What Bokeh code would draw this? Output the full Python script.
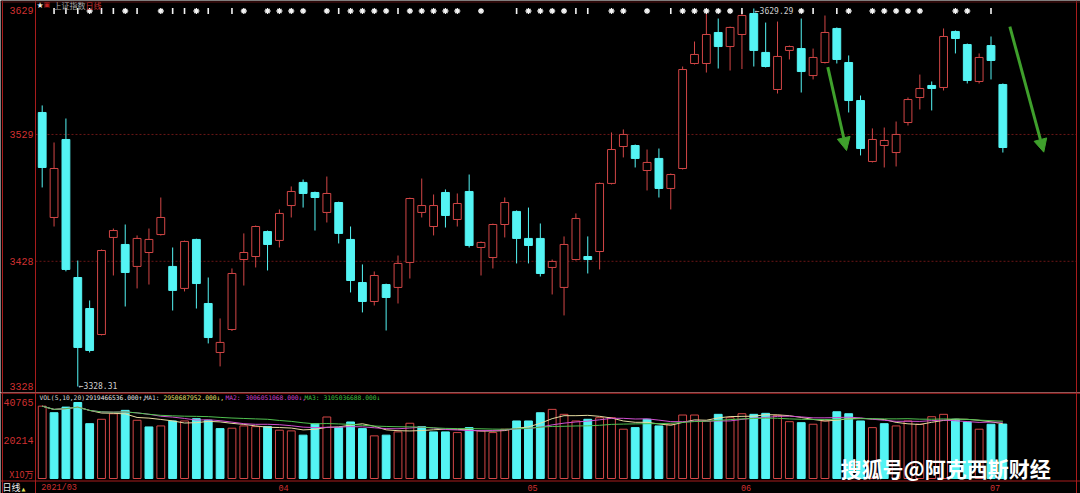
import numpy as np
import pandas as pd
from bokeh.plotting import figure
from bokeh.layouts import column
from bokeh.models import Range1d, Label, Arrow, NormalHead, ColumnDataSource, Span
from bokeh.embed import file_html
from bokeh.resources import INLINE

# ---------------- data (Shanghai Composite daily, 2021/03/04 - 2021/07/02) ----------------
opens = [3546.5, 3462.9, 3525.0, 3415.1, 3390.4, 3369.7, 3447.0, 3441.4, 3423.9, 3435.0,
         3449.3, 3423.9, 3406.4, 3445.4, 3394.4, 3355.4, 3373.7, 3429.4, 3431.8, 3451.7,
         3444.6, 3472.4, 3490.8, 3482.8, 3466.9, 3474.8, 3445.4, 3411.1, 3396.0, 3409.5,
         3407.2, 3427.1, 3466.9, 3455.7, 3482.8, 3461.3, 3483.6, 3439.0, 3431.0, 3457.3,
         3467.7, 3446.2, 3446.2, 3423.1, 3407.2, 3429.4, 3431.8, 3435.8, 3490.0, 3519.4,
         3520.2, 3500.3, 3509.9, 3486.0, 3501.9, 3585.5, 3585.5, 3610.2, 3599.0, 3608.6,
         3625.3, 3594.3, 3564.8, 3595.9, 3597.4, 3575.9, 3586.3, 3613.4, 3586.3, 3556.0,
         3507.5, 3520.2, 3514.6, 3538.5, 3558.4, 3568.0, 3566.4, 3611.0, 3600.6, 3571.2,
         3599.8, 3568.8]
highs = [3552.1, 3522.6, 3541.7, 3428.6, 3396.8, 3437.4, 3454.1, 3457.3, 3448.6, 3454.1,
         3478.8, 3439.0, 3444.5, 3446.0, 3415.1, 3382.5, 3422.3, 3450.2, 3456.5, 3452.5,
         3469.3, 3487.6, 3493.1, 3483.5, 3495.5, 3475.5, 3455.7, 3425.5, 3419.9, 3410.2,
         3432.6, 3478.7, 3493.9, 3481.2, 3485.2, 3482.0, 3497.1, 3443.8, 3458.0, 3478.8,
         3468.5, 3470.8, 3458.1, 3429.4, 3447.8, 3466.1, 3447.8, 3490.7, 3530.6, 3533.0,
         3521.0, 3517.0, 3517.8, 3497.9, 3583.1, 3603.0, 3626.1, 3621.3, 3614.9, 3627.0,
         3629.29, 3618.1, 3618.9, 3599.8, 3621.3, 3597.4, 3623.7, 3614.2, 3591.9, 3560.0,
         3533.8, 3534.5, 3539.3, 3558.4, 3576.7, 3571.2, 3613.4, 3611.8, 3601.4, 3593.5,
         3607.0, 3569.6]
lows = [3486.8, 3455.7, 3420.0, 3328.31, 3355.4, 3369.0, 3416.7, 3392.0, 3406.4, 3409.5,
        3448.5, 3388.8, 3404.0, 3390.4, 3362.6, 3344.3, 3372.5, 3408.7, 3423.1, 3420.7,
        3439.0, 3462.9, 3470.8, 3452.5, 3458.9, 3442.2, 3403.2, 3387.3, 3392.8, 3372.9,
        3394.4, 3414.3, 3462.9, 3448.6, 3454.9, 3455.7, 3439.0, 3416.7, 3422.3, 3447.0,
        3426.3, 3426.3, 3415.9, 3401.6, 3384.9, 3428.6, 3418.3, 3421.5, 3489.2, 3510.7,
        3502.7, 3484.4, 3478.8, 3469.3, 3501.1, 3584.7, 3578.3, 3581.5, 3579.9, 3581.1,
        3583.1, 3582.3, 3561.6, 3588.7, 3562.4, 3572.8, 3585.5, 3585.5, 3546.5, 3512.3,
        3506.7, 3502.7, 3503.5, 3536.1, 3548.9, 3548.1, 3564.0, 3593.5, 3569.6, 3569.6,
        3572.8, 3514.6]
closes = [3502.7, 3501.9, 3421.5, 3359.4, 3357.0, 3436.6, 3452.5, 3419.1, 3446.2, 3445.4,
          3462.9, 3404.8, 3443.8, 3410.3, 3367.3, 3363.4, 3418.3, 3435.0, 3455.7, 3441.4,
          3466.1, 3483.6, 3482.0, 3478.8, 3482.0, 3450.2, 3412.7, 3396.0, 3416.7, 3399.2,
          3426.3, 3478.0, 3472.4, 3472.4, 3464.5, 3474.0, 3440.6, 3443.0, 3457.3, 3474.8,
          3446.2, 3440.6, 3418.3, 3427.9, 3441.4, 3462.1, 3429.4, 3490.0, 3517.0, 3529.0,
          3509.9, 3506.7, 3486.0, 3497.1, 3580.7, 3592.7, 3608.6, 3599.0, 3614.2, 3623.7,
          3595.9, 3583.1, 3591.1, 3599.0, 3579.1, 3590.3, 3610.2, 3588.7, 3556.0, 3517.8,
          3525.0, 3524.2, 3529.0, 3556.8, 3565.6, 3565.6, 3607.0, 3605.4, 3572.0, 3590.3,
          3587.9, 3518.6]
# volume, unit x10万
volumes = [38800, 35300, 38300, 40765, 29420, 31760, 34740, 36550, 31230, 27660,
           28200, 30860, 30860, 32080, 31230, 26760, 26970, 28200, 27820, 27820,
           25910, 25540, 23250, 29420, 32980, 27290, 30320, 26760, 22880, 23250,
           25000, 29630, 27820, 25000, 25000, 24630, 27290, 25540, 24630, 26440,
           30860, 30860, 35270, 37080, 34420, 30860, 31760, 32610, 32610, 26440,
           27290, 31760, 28200, 29100, 34050, 34050, 30860, 34420, 32610, 34740,
           34420, 34950, 33890, 30480, 29950, 29100, 30860, 35800, 34740, 30860,
           27290, 29420, 28200, 30860, 29100, 33140, 34420, 31760, 30320, 26440,
           29100, 29195]
# colour of each volume bar: u = red hollow, d = cyan
vol_dir = ("udddduudud" "ududdduuud" "uuddudddud" "uuddduduuu" "ddduuuduuu"
           "ddduuuuduu" "dduuduuddd" "uduuuuuddu" "dd")
# signal row on top of the chart: * star, | bar, . none
signals = (".|||*||*|." "*||*|.|*.*" "***.*|****" "|*****.*.." "|****||.**"
           ".*.|*****|" "....*|.|*." "*****..**." "|.")
price_ticks = [3328, 3428, 3529, 3629]
vol_ticks = [40765, 20214]
vol_unit = "X10万"
month_idx = [0, 20, 41, 59, 80]
month_labels = ["2021/03", "04", "05", "06", "07"]
ma_periods = [5, 10, 20]
vol_header = ["VOL(5,10,20)", "2919466536.000\u2191,", "MA1:", "2950687952.000\u2193,",
              "MA2:", "3006051068.000\u2193,", "MA3:", "3105036688.000\u2193"]
# green arrows (index, price)
arrows = [(66.24, 3582.6, 67.82, 3516.2), (81.59, 3614.9, 84.45, 3514.9)]

# ---------------- layout (pixels) ----------------
W = 1080
H1, H2 = 392, 101
STEP = 11.86          # px per trading day
X0PX = 41.7           # px of first candle centre
AXIS_X = 35           # left axis line
RIGHT_X = 1076        # right border
x_start = -X0PX / STEP
x_end = x_start + W / STEP

BG = "black"
RED = "#d24646"
CYAN = "#54f4f4"
BORDER = "#a81c1c"
LBL = "#d03030"
GREEN = "#3fa02c"
MONO = "Liberation Mono"
CJK = "Noto Sans CJK SC"

hi, lo = max(highs), min(lows)
top_px, bot_px = 8.0, 386.0
k1 = (bot_px - top_px) / (hi - lo)
y1_end = hi + top_px / k1
y1_start = lo - (H1 - bot_px) / k1

vmax = max(volumes)
v_top_px, v_zero_px = 10.0, 86.0
k2 = (v_zero_px - v_top_px) / vmax
v_end = vmax + v_top_px / k2
v_start = -(H2 - v_zero_px) / k2

def x_at(px):
    return x_start + px / STEP

def y1_at(px):
    return y1_end - px / k1

def v_at(px):
    return v_end - px / k2

xr = Range1d(x_start, x_end)

def base_fig(h, yr):
    f = figure(width=W, height=h, x_range=xr, y_range=yr, output_backend="svg",
               toolbar_location=None, background_fill_color=BG, border_fill_color=BG,
               x_axis_location=None, y_axis_location=None,
               min_border_left=0, min_border_right=0, min_border_top=0, min_border_bottom=0)
    f.outline_line_color = None
    f.grid.visible = False
    return f

p1 = base_fig(H1, Range1d(y1_start, y1_end))
p2 = base_fig(H2, Range1d(v_start, v_end))

# borders
for f in (p1, p2):
    for px in (2, AXIS_X, RIGHT_X):
        f.add_layout(Span(location=x_at(px), dimension="height", line_color=BORDER, line_width=1))
p1.add_layout(Span(location=y1_at(1.5), dimension="width", line_color="#5a1414", line_width=1))
p2.add_layout(Span(location=v_at(0.5), dimension="width", line_color=BORDER, line_width=1.5))
p2.add_layout(Span(location=v_at(88.5), dimension="width", line_color=BORDER, line_width=1))

# grid lines
for t in price_ticks[1:3]:
    p1.segment(x0=x_at(AXIS_X), y0=t, x1=x_at(RIGHT_X), y1=t, line_color="#6a1616",
               line_dash="2 2", line_width=1)

# candles
idx = np.arange(len(opens))
o, h, l, c = map(np.array, (opens, highs, lows, closes))
up = c >= o
btop, bbot = np.maximum(o, c), np.minimum(o, c)
su = ColumnDataSource(dict(x=idx[up], top=btop[up], bot=bbot[up], h=h[up], l=l[up]))
sd = ColumnDataSource(dict(x=idx[~up], top=btop[~up], bot=bbot[~up], h=h[~up], l=l[~up]))
BW = 0.66
p1.segment(x0="x", y0="h", x1="x", y1="top", source=su, line_color=RED, line_width=1)
p1.segment(x0="x", y0="bot", x1="x", y1="l", source=su, line_color=RED, line_width=1)
p1.vbar(x="x", width=BW, top="top", bottom="bot", source=su, fill_color=BG, line_color=RED, line_width=1)
p1.segment(x0="x", y0="h", x1="x", y1="l", source=sd, line_color=CYAN, line_width=1)
p1.vbar(x="x", width=BW, top="top", bottom="bot", source=sd, fill_color=CYAN, line_color=CYAN, line_width=1)

# signal markers on top row
y_sig = y1_at(10.5)
sig = np.array(list(signals))
star_x = idx[sig == "*"]
bar_x = idx[sig == "|"]
p1.scatter(x=star_x, y=[y_sig] * len(star_x), marker="asterisk", size=6,
           line_color="#f4f4f4", line_width=1.3)
p1.scatter(x=bar_x, y=[y_sig] * len(bar_x), marker="dash", angle=np.pi / 2, size=6,
           line_color="#f4f4f4", line_width=1.6)

# extreme labels
imin = int(np.argmin(l)); imax = int(np.argmax(h))
p1.add_layout(Label(x=imin, y=l[imin], text="\u2190" + f"{l[imin]:.2f}", x_offset=1,
                    text_baseline="middle", text_font="DejaVu Sans Mono",
                    text_font_size="8px", text_color="#cfcfcf"))
p1.add_layout(Label(x=imax, y=h[imax], text="\u2190" + f"{h[imax]:.2f}", x_offset=1, y_offset=-3,
                    text_baseline="middle", text_font="DejaVu Sans Mono",
                    text_font_size="8px", text_color="#cfcfcf"))

# price axis labels (left column)
for t in price_ticks:
    yy = min(t, y1_at(10))
    p1.add_layout(Label(x=x_at(AXIS_X - 2), y=yy, text=str(t), text_align="right",
                        text_baseline="middle", text_font=MONO, text_font_size="10px",
                        text_color=LBL))

# header
for txt, px, col, fnt, fs in [("\u2605", 36, "#f0f0f0", "DejaVu Sans", "8px"),
                              ("\u25a3", 43, "#c02020", "DejaVu Sans", "7px"),
                              ("上证指数", 53, "#a8a8a8", CJK, "8px"),
                              ("日线", 85, "#c83030", CJK, "8px")]:
    p1.add_layout(Label(x=x_at(px), y=y1_at(4.5), text=txt, text_baseline="middle",
                        text_font=fnt, text_font_size=fs, text_color=col))

# arrows
for (xa, ya, xb, yb) in arrows:
    p1.add_layout(Arrow(x_start=xa, y_start=ya, x_end=xb, y_end=yb, line_color=GREEN,
                        line_width=3, end=NormalHead(size=13, fill_color=GREEN,
                                                     line_color=GREEN)))

# ---------------- volume panel ----------------
vol = np.array(volumes, dtype=float)
vup = np.array([ch == "u" for ch in vol_dir])
p2.vbar(x=idx[vup], width=BW, top=vol[vup], bottom=0, fill_color=BG, line_color=RED, line_width=1)
p2.vbar(x=idx[~vup], width=BW, top=vol[~vup], bottom=0, fill_color=CYAN, line_color=CYAN, line_width=1)

ma_colors = ["#e6dca0", "#d050d0", "#50c050"]
vs = pd.Series(vol)
for n, col in zip(ma_periods, ma_colors):
    p2.line(idx, vs.rolling(n, min_periods=1).mean().values, line_color=col, line_width=1)

# volume axis labels
for t in vol_ticks:
    p2.add_layout(Label(x=x_at(AXIS_X - 2), y=t, text=str(t), text_align="right",
                        text_baseline="middle", text_font=MONO, text_font_size="10px",
                        text_color=LBL))
p2.add_layout(Label(x=x_at(AXIS_X - 2), y=v_at(82), text=vol_unit, text_align="right",
                    text_baseline="middle", text_font=CJK, text_font_size="9px",
                    text_color=LBL))

# volume header
hx = [39, 85, 144, 163, 225, 245, 304, 323]
hc = ["#d8d8d8", "#e8e8e8", "#d8d8d8", "#e8e070", "#d040d0", "#d040d0", "#40c040", "#40c040"]
for txt, px, col in zip(vol_header, hx, hc):
    p2.add_layout(Label(x=x_at(px), y=v_at(5), text=txt, text_baseline="middle",
                        text_font="DejaVu Sans Mono", text_font_size="6.3px", text_color=col))

# month labels
for i, s in zip(month_idx, month_labels):
    p2.add_layout(Label(x=i, y=v_at(95.5), text=s, text_baseline="middle", x_offset=-1,
                        text_font=MONO, text_font_size="8.5px", text_color=LBL))

# bottom-left label
p2.add_layout(Label(x=x_at(2), y=v_at(94.5), text="日线", text_baseline="middle",
                    text_font=CJK, text_font_size="9px", text_color="#f0f0f0"))
p2.add_layout(Label(x=x_at(21), y=v_at(96), text="\u25b2", text_baseline="middle",
                    text_font="DejaVu Sans", text_font_size="5px", text_color="#e0e060"))

# watermark
p2.add_layout(Label(x=x_at(840), y=v_at(75.5), text="搜狐号@阿克西斯财经",
                    text_baseline="middle", text_font=CJK, text_font_size="21px",
                    text_font_style="bold", text_color="#ffffff"))

p = column(p1, p2, spacing=0)
open("out.html", "w").write(file_html(p, INLINE))
